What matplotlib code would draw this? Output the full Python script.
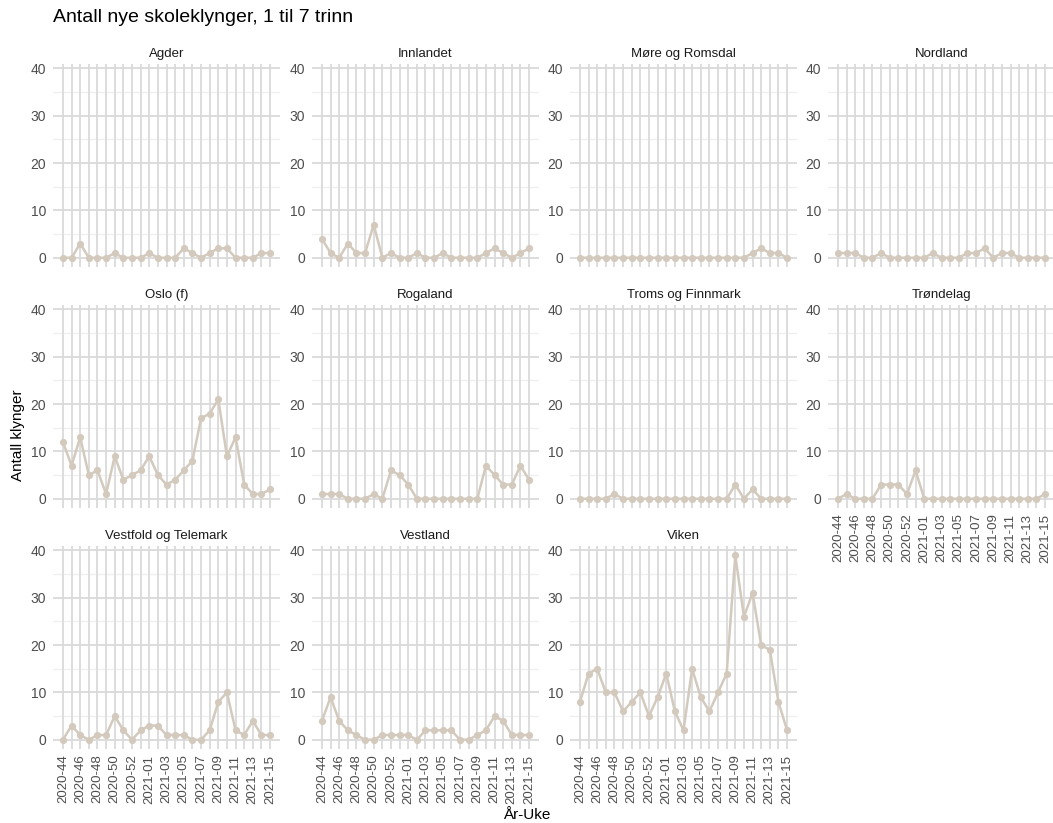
import numpy as np
import matplotlib
matplotlib.use("Agg")
import matplotlib.pyplot as plt

plt.rcParams['font.family'] = ['Liberation Sans', 'DejaVu Sans']

# categories: ISO weeks 2020-44 .. 2021-15 (2020 has 53 weeks)
weeks = ['2020-%02d' % w for w in range(44, 54)] + ['2021-%02d' % w for w in range(1, 16)]
week_labels = [w if i % 2 == 0 else '' for i, w in enumerate(weeks)]

regions = ['Agder', 'Innlandet', 'Møre og Romsdal', 'Nordland',
           'Oslo (f)', 'Rogaland', 'Troms og Finnmark', 'Trøndelag',
           'Vestfold og Telemark', 'Vestland', 'Viken']

agder = [0, 0, 3, 0, 0, 0, 1, 0, 0, 0, 1, 0, 0, 0, 2, 1, 0, 1, 2, 2, 0, 0, 0, 1, 1]
innlandet = [4, 1, 0, 3, 1, 1, 7, 0, 1, 0, 0, 1, 0, 0, 1, 0, 0, 0, 0, 1, 2, 1, 0, 1, 2]
more_romsdal = [0, 0, 0, 0, 0, 0, 0, 0, 0, 0, 0, 0, 0, 0, 0, 0, 0, 0, 0, 0, 1, 2, 1, 1, 0]
nordland = [1, 1, 1, 0, 0, 1, 0, 0, 0, 0, 0, 1, 0, 0, 0, 1, 1, 2, 0, 1, 1, 0, 0, 0, 0]
oslo = [12, 7, 13, 5, 6, 1, 9, 4, 5, 6, 9, 5, 3, 4, 6, 8, 17, 18, 21, 9, 13, 3, 1, 1, 2]
rogaland = [1, 1, 1, 0, 0, 0, 1, 0, 6, 5, 3, 0, 0, 0, 0, 0, 0, 0, 0, 7, 5, 3, 3, 7, 4]
troms_finnmark = [0, 0, 0, 0, 1, 0, 0, 0, 0, 0, 0, 0, 0, 0, 0, 0, 0, 0, 3, 0, 2, 0, 0, 0, 0]
trondelag = [0, 1, 0, 0, 0, 3, 3, 3, 1, 6, 0, 0, 0, 0, 0, 0, 0, 0, 0, 0, 0, 0, 0, 0, 1]
vestfold_telemark = [0, 3, 1, 0, 1, 1, 5, 2, 0, 2, 3, 3, 1, 1, 1, 0, 0, 2, 8, 10, 2, 1, 4, 1, 1]
vestland = [4, 9, 4, 2, 1, 0, 0, 1, 1, 1, 1, 0, 2, 2, 2, 2, 0, 0, 1, 2, 5, 4, 1, 1, 1]
viken = [8, 14, 15, 10, 10, 6, 8, 10, 5, 9, 14, 6, 2, 15, 9, 6, 10, 14, 39, 26, 31, 20, 19, 8, 2]

series = [agder, innlandet, more_romsdal, nordland, oslo, rogaland,
          troms_finnmark, trondelag, vestfold_telemark, vestland, viken]

W, H = 1053, 823
fig = plt.figure(figsize=(W / 100, H / 100), dpi=100)
fig.patch.set_facecolor('white')

line_col = '#d3cabd'
grid_major = '#dadada'
grid_minor = '#efefef'
text_col = '#4d4d4d'

# panel geometry in pixels
lefts = [53, 312, 570, 828]
tops = [64, 305, 546]
pw, ph = 227, 203
xpad = 1.15

x = np.arange(len(weeks))
bottom_panels = {7, 8, 9, 10}

for i, (name, vals) in enumerate(zip(regions, series)):
    r, c = divmod(i, 4)
    ax = fig.add_axes([lefts[c] / W, 1 - (tops[r] + ph) / H, pw / W, ph / H])
    ax.set_facecolor('white')
    for s in ax.spines.values():
        s.set_visible(False)

    ax.set_xlim(-xpad, len(weeks) - 1 + xpad)
    ax.set_ylim(-1.95, 40.95)

    # grid
    for yv in [5, 15, 25, 35]:
        ax.axhline(yv, color=grid_minor, lw=0.9, zorder=0)
    for yv in [0, 10, 20, 30, 40]:
        ax.axhline(yv, color=grid_major, lw=1.3, zorder=0)
    for xv in x:
        ax.axvline(xv, color=grid_major, lw=1.3, zorder=0)

    ax.plot(x, vals, color=line_col, lw=1.8, marker='o', ms=5.2,
            markeredgewidth=0, zorder=3)

    ax.set_yticks([0, 10, 20, 30, 40])
    ax.tick_params(axis='y', length=0, labelsize=10, labelcolor=text_col, pad=5)
    ax.set_xticks(x)
    if i in bottom_panels:
        ax.set_xticklabels(week_labels, rotation=90, fontsize=9.5, color=text_col)
        ax.tick_params(axis='x', length=0, pad=4)
    else:
        ax.set_xticklabels([])
        ax.tick_params(axis='x', length=0)

    ax.set_title(name, fontsize=9.5, color='#1a1a1a', pad=5)

fig.text(53 / W, 1 - 18 / H, 'Antall nye skoleklynger, 1 til 7 trinn',
         fontsize=14, color='black', ha='left', va='center')
fig.text(527 / W, 1 - 815 / H, 'År-Uke', fontsize=11, color='black',
         ha='center', va='center')
fig.text(18 / W, 1 - 435 / H, 'Antall klynger', fontsize=11, color='black',
         ha='center', va='center', rotation=90)

fig.savefig('out.png', dpi=100, facecolor='white')
